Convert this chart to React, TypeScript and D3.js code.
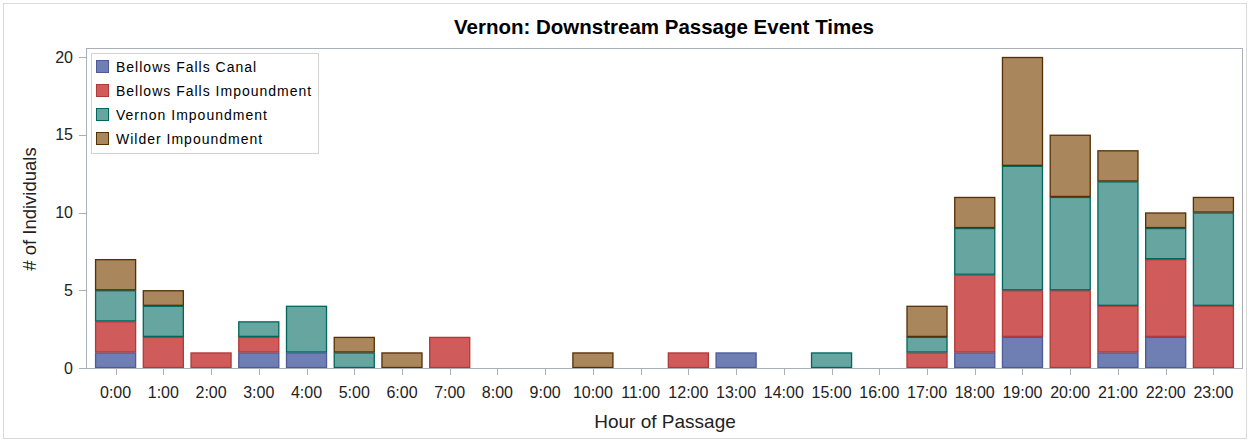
import React from "react";
import * as d3 from "d3";

const hours = ["0:00","1:00","2:00","3:00","4:00","5:00","6:00","7:00","8:00","9:00","10:00","11:00","12:00","13:00","14:00","15:00","16:00","17:00","18:00","19:00","20:00","21:00","22:00","23:00"];
const seriesNames = ["Bellows Falls Canal","Bellows Falls Impoundment","Vernon Impoundment","Wilder Impoundment"];
const bellowsCanal = [1,0,0,1,1,0,0,0,0,0,0,0,0,1,0,0,0,0,1,2,0,1,2,0];
const bellowsImpound = [2,2,1,1,0,0,0,2,0,0,0,0,1,0,0,0,0,1,5,3,5,3,5,4];
const vernonImpound = [2,2,0,1,3,1,0,0,0,0,0,0,0,0,0,1,0,1,3,8,6,8,2,6];
const wilderImpound = [2,1,0,0,0,1,1,0,0,0,1,0,0,0,0,0,0,2,2,7,4,2,1,1];
const yTicks = [0,5,10,15,20];
const fills = ["#6F7EB3","#D05B5B","#66A5A0","#A9865B"];
const strokes = ["#4D5C99","#B03A3A","#01665E","#543005"];

export default function App() {
  const W = 1250, H = 442;
  const left = 86, right = 1243, top = 48, bottom = 368;
  const x = d3.scaleBand<string>().domain(hours).range([left, right]).paddingInner(0.14).paddingOuter(0.19);
  const y = d3.scaleLinear().domain([0, 20]).range([bottom, 57]);
  const all = [bellowsCanal, bellowsImpound, vernonImpound, wilderImpound];
  const rows = hours.map((h, i) => {
    const r: any = { hour: h };
    seriesNames.forEach((s, k) => (r[s] = all[k][i]));
    return r;
  });
  const stacked = d3.stack<any>().keys(seriesNames)(rows);
  const font = "'Liberation Sans', Arial, sans-serif";
  return (
    <svg width={W} height={H} style={{ position: "absolute", left: 0, top: 0, background: "#fff" }}>
      <rect x={3.5} y={3.5} width={W - 7} height={H - 7} fill="#fff" stroke="#D9D9D9" />
      <text x={664} y={34} textAnchor="middle" fontFamily={font} fontWeight="bold" fontSize={20.5} fill="#000">Vernon: Downstream Passage Event Times</text>
      <rect x={left + 0.5} y={top + 0.5} width={right - left - 1} height={bottom - top} fill="none" stroke="#ABB0B8" />
      {stacked.map((layer, k) =>
        layer.map((d, i) =>
          d[1] - d[0] > 0 ? (
            <rect key={k + "-" + i} x={x(hours[i])! + 0.5} y={y(d[1]) + 0.5} width={x.bandwidth() - 1} height={y(d[0]) - y(d[1]) - 1}
              fill={fills[k]} stroke={strokes[k]} strokeWidth={1.3} />
          ) : null
        )
      )}
      <line x1={left} x2={right} y1={bottom + 0.5} y2={bottom + 0.5} stroke="#ABB0B8" />
      {yTicks.map((t) => (
        <g key={t}>
          <line x1={left - 7} x2={left} y1={Math.round(y(t)) + 0.5} y2={Math.round(y(t)) + 0.5} stroke="#ABB0B8" />
          <text x={left - 13} y={y(t) + 5.5} textAnchor="end" fontFamily={font} fontSize={16} fill="#222">{t}</text>
        </g>
      ))}
      {hours.map((h) => {
        const cx = x(h)! + x.bandwidth() / 2;
        return (
          <g key={h}>
            <line x1={Math.round(cx) + 0.5} x2={Math.round(cx) + 0.5} y1={bottom} y2={bottom + 7} stroke="#ABB0B8" />
            <text x={cx} y={398} textAnchor="middle" fontFamily={font} fontSize={16} fill="#222">{h}</text>
          </g>
        );
      })}
      <text x={665} y={428} textAnchor="middle" fontFamily={font} fontSize={19} fill="#222">Hour of Passage</text>
      <text transform={`translate(36,209) rotate(-90)`} textAnchor="middle" fontFamily={font} fontSize={18.5} fill="#222"># of Individuals</text>
      <rect x={91.5} y={53.5} width={227} height={100} fill="#fff" stroke="#D3D3D3" />
      {seriesNames.map((s, k) => (
        <g key={s}>
          <rect x={96.5} y={60.5 + k * 24} width={12} height={12} fill={fills[k]} stroke={strokes[k]} />
          <text x={116} y={71.5 + k * 24} fontFamily={font} fontSize={14} letterSpacing={1.0} fill="#000">{s}</text>
        </g>
      ))}
    </svg>
  );
}
